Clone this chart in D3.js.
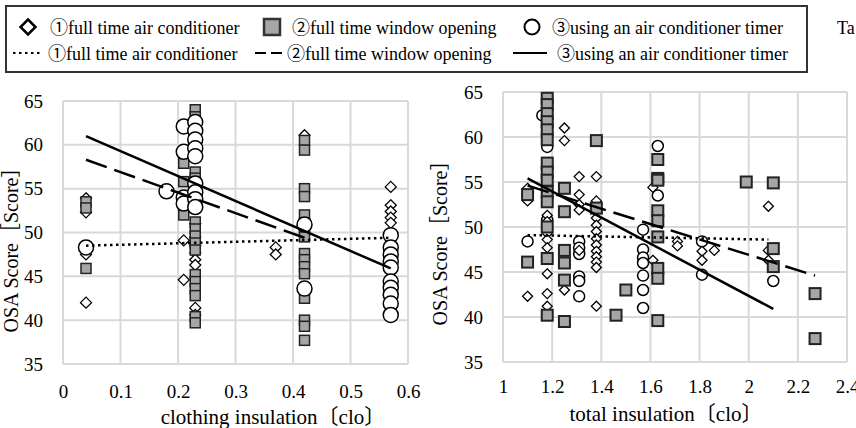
<!DOCTYPE html>
<html><head><meta charset="utf-8">
<script src="https://cdn.jsdelivr.net/npm/d3@7"></script>
<style>
body{margin:0;background:#fff}
svg{display:block}
text{font-family:"Liberation Serif","Times New Roman","Noto Sans CJK JP",serif;fill:#000}
</style>
</head><body>
<svg id="c" width="856" height="428"></svg>
<script>
// ---------- data ----------
const leftXTicks = [0, 0.1, 0.2, 0.3, 0.4, 0.5, 0.6];
const rightXTicks = [1, 1.2, 1.4, 1.6, 1.8, 2, 2.2, 2.4];
const yTicks = [35, 40, 45, 50, 55, 60, 65];
const seriesNames = ["①full time air conditioner", "②full time window opening", "③using an air conditioner timer"];
const leftXLabel = "clothing insulation〔clo〕";
const rightXLabel = "total insulation〔clo〕";
const yLabel = "OSA Score［Score］";
const sideText = "Ta";

// [x, [y values...]]
const leftAC = [
  [0.04, [53.9, 52.3, 47.5, 42.0]],
  [0.21, [49.1, 44.6]],
  [0.23, [51.0, 49.5, 48.5, 47.7, 46.9, 46.3, 41.4, 40.6]],
  [0.37, [48.3, 47.5]],
  [0.42, [61.1]],
  [0.57, [55.2, 53.1, 52.4, 51.7, 51.1]]
];
const leftWindow = [
  [0.04, [53.5, 52.8, 45.9]],
  [0.21, [57.9, 55.8, 52.0]],
  [0.23, [64.0, 63.2, 62.3, 61.4, 60.5, 59.6, 56.9, 56.2, 55.4, 54.6, 53.7, 51.2, 50.4, 49.6, 48.8, 48.0, 45.2, 44.4, 43.6, 42.8, 40.4, 39.7]],
  [0.42, [60.5, 59.4, 55.0, 54.1, 52.0, 51.1, 50.3, 49.5, 47.6, 46.9, 46.1, 45.3, 42.5, 40.0, 39.3, 37.7]]
];
const leftTimer = [
  [0.04, [48.3]],
  [0.18, [54.7]],
  [0.21, [62.1, 59.2, 54.0, 53.3]],
  [0.23, [62.6, 61.6, 60.6, 59.6, 58.7, 55.6, 54.6, 53.8, 52.9]],
  [0.42, [50.9, 43.6]],
  [0.57, [49.7, 48.3, 47.5, 46.7, 46.0, 44.4, 43.7, 42.9, 41.9, 40.6]]
];
const rightAC = [
  [1.10, [54.3, 52.9, 42.3]],
  [1.18, [51.3, 50.6, 49.3, 48.6, 47.7, 44.8, 42.6, 41.2]],
  [1.25, [61.0, 59.6, 43.0]],
  [1.31, [55.6, 53.6, 52.5, 51.9, 47.4]],
  [1.38, [55.6, 52.9, 51.0, 50.2, 49.5, 48.7, 48.0, 47.3, 46.7, 46.1, 45.5, 41.2]],
  [1.61, [54.4, 46.3]],
  [1.71, [48.4, 47.9]],
  [1.81, [47.3, 46.3]],
  [1.86, [47.4]],
  [2.08, [52.3, 47.4, 46.3]]
];
const rightWindow = [
  [1.10, [53.6, 46.1]],
  [1.18, [64.3, 63.6, 62.6, 61.7, 60.8, 59.7, 57.1, 56.1, 55.2, 53.9, 52.8, 50.0, 46.5, 40.2]],
  [1.25, [54.3, 51.7, 47.4, 46.0, 44.1, 39.5]],
  [1.38, [59.6, 52.1]],
  [1.46, [40.2]],
  [1.50, [43.0]],
  [1.63, [57.5, 55.4, 55.2, 51.8, 50.7, 48.9, 45.4, 44.3, 39.6]],
  [1.99, [55.0]],
  [2.10, [54.9, 47.6, 45.6]],
  [2.27, [42.6, 37.6]]
];
const rightTimer = [
  [1.10, [48.4]],
  [1.16, [62.4]],
  [1.18, [58.9, 54.5, 50.8]],
  [1.31, [48.4, 47.7, 47.0, 44.5, 44.0, 42.3]],
  [1.57, [49.7, 47.5, 46.6, 46.0, 44.6, 43.0, 41.0]],
  [1.63, [59.0, 53.5]],
  [1.81, [48.4, 44.7]],
  [2.10, [44.0]]
];
// trend lines: [[x1,y1],[x2,y2]]
const leftTrendAC = [[0.04, 48.5], [0.57, 49.4]];
const leftTrendWindow = [[0.04, 58.3], [0.42, 49.4]];
const leftTrendTimer = [[0.04, 61.0], [0.57, 45.9]];
const rightTrendAC = [[1.10, 49.1], [2.08, 48.6]];
const rightTrendWindow = [[1.10, 54.6], [2.27, 44.6]];
const rightTrendTimer = [[1.10, 55.4], [2.10, 40.9]];

// ---------- drawing ----------
const svg = d3.select("#c");
const flat = s => s.flatMap(([x, ys]) => ys.map(y => [x, y]));
const GRID = "#d9d9d9";
const SQFILL = "#a6a6a6";
const dotted = "2.5,3.5", dashed = "22,8";

function marker(g, type, pts, sx, sy, sz) {
  const sel = g.selectAll(null).data(pts);
  if (type === "circle") {
    sel.enter().append("circle")
      .attr("cx", d => sx(d[0])).attr("cy", d => sy(d[1])).attr("r", sz.c)
      .attr("fill", "#fff").attr("stroke", "#000").attr("stroke-width", 1.5);
  } else if (type === "square") {
    sel.enter().append("rect")
      .attr("x", d => sx(d[0]) - sz.s / 2).attr("y", d => sy(d[1]) - sz.s / 2)
      .attr("width", sz.s).attr("height", sz.s)
      .attr("fill", SQFILL).attr("stroke", "#222").attr("stroke-width", sz.sw);
  } else {
    const r = sz.d;
    sel.enter().append("path")
      .attr("d", d => { const x = sx(d[0]), y = sy(d[1]); return `M${x},${y - r}L${x + r},${y}L${x},${y + r}L${x - r},${y}Z`; })
      .attr("fill", "#fff").attr("stroke", "#000").attr("stroke-width", 1.3);
  }
}

function chart(o) {
  const sx = d3.scaleLinear().domain(o.xd).range([o.l, o.r]);
  const sy = d3.scaleLinear().domain([35, 65]).range([o.b, o.t]);
  const g = svg.append("g");
  // grid
  g.selectAll(null).data(o.xt).enter().append("line")
    .attr("x1", d => sx(d)).attr("x2", d => sx(d)).attr("y1", o.t).attr("y2", o.b)
    .attr("stroke", GRID).attr("stroke-width", 2);
  g.selectAll(null).data(yTicks).enter().append("line")
    .attr("x1", o.l).attr("x2", o.r).attr("y1", d => sy(d)).attr("y2", d => sy(d))
    .attr("stroke", GRID).attr("stroke-width", 2);
  // axes labels
  const ax = d3.axisBottom(sx).tickValues(o.xt).tickSize(0).tickPadding(o.xpad)
    .tickFormat(d => String(+d.toFixed(1)));
  const ga = g.append("g").attr("transform", `translate(0,${o.b})`).call(ax);
  ga.select(".domain").remove();
  ga.selectAll("text").attr("font-size", 19).attr("font-family", "Liberation Serif");
  const ay = d3.axisLeft(sy).tickValues(yTicks).tickSize(0).tickPadding(20);
  const gy = g.append("g").attr("transform", `translate(${o.l},0)`).call(ay);
  gy.select(".domain").remove();
  gy.selectAll("text").attr("font-size", 19).attr("font-family", "Liberation Serif");
  // titles
  g.append("text").attr("x", o.xlx).attr("y", o.xly).attr("text-anchor", "middle")
    .attr("font-size", 21).text(o.xlabel);
  g.append("text").attr("transform", `translate(${o.ylx},${o.yly}) rotate(-90)`)
    .attr("text-anchor", "middle").attr("font-size", 20).text(yLabel);
  // markers
  const sz = o.sz;
  o.order.forEach(([type, data]) => marker(g, type, flat(data), sx, sy, sz));
  // trendlines
  const line = d3.line().x(d => sx(d[0])).y(d => sy(d[1]));
  o.trends.forEach(([pts, dash]) => {
    g.append("path").attr("d", line(pts)).attr("fill", "none").attr("stroke", "#000")
      .attr("stroke-width", 2.5).attr("stroke-dasharray", dash);
  });
}

chart({
  xd: [0, 0.6], xt: leftXTicks, l: 63, r: 408, t: 101, b: 364, xpad: 20.5,
  xlabel: leftXLabel, xlx: 273, xly: 424, ylx: 18, yly: 245,
  sz: { c: 7.5, s: 10, d: 5.5, sw: 1.5 },
  order: [["diamond", leftAC], ["square", leftWindow], ["circle", leftTimer]],
  trends: [[leftTrendAC, dotted], [leftTrendWindow, dashed], [leftTrendTimer, null]]
});
chart({
  xd: [1, 2.4], xt: rightXTicks, l: 503, r: 847, t: 92, b: 362, xpad: 17.5,
  xlabel: rightXLabel, xlx: 666, xly: 421, ylx: 447, yly: 238,
  sz: { c: 5.5, s: 11, d: 5, sw: 2 },
  order: [["circle", rightTimer], ["diamond", rightAC], ["square", rightWindow]],
  trends: [[rightTrendAC, dotted], [rightTrendWindow, dashed], [rightTrendTimer, null]]
});

// ---------- legend ----------
const lg = svg.append("g");
lg.append("rect").attr("x", 6).attr("y", 6).attr("width", 801).attr("height", 66)
  .attr("fill", "#fff").attr("stroke", "#3a3030").attr("stroke-width", 2);
const row1 = 27, row2 = 53;
lg.append("path").attr("d", `M28,${row1 - 7.5}L35.5,${row1}L28,${row1 + 7.5}L20.5,${row1}Z`)
  .attr("fill", "#fff").attr("stroke", "#000").attr("stroke-width", 2.5);
lg.append("rect").attr("x", 264).attr("y", row1 - 8).attr("width", 16).attr("height", 16)
  .attr("fill", SQFILL).attr("stroke", "#333").attr("stroke-width", 2.5);
lg.append("circle").attr("cx", 532).attr("cy", row1).attr("r", 7.5)
  .attr("fill", "#fff").attr("stroke", "#000").attr("stroke-width", 2);
const r1x = [50, 292, 552];
seriesNames.forEach((n, i) => lg.append("text").attr("x", r1x[i]).attr("y", row1 + 6.5)
  .attr("font-size", 18).text(n));
const r2 = [[13, 40, dotted, 48], [255, 282, "11,5", 287], [513, 547, null, 557]];
seriesNames.forEach((n, i) => {
  const [a, b, dash, tx] = r2[i];
  lg.append("line").attr("x1", a).attr("x2", b).attr("y1", row2).attr("y2", row2)
    .attr("stroke", "#000").attr("stroke-width", 2).attr("stroke-dasharray", dash);
  lg.append("text").attr("x", tx).attr("y", row2 + 6.5).attr("font-size", 18).text(n);
});
svg.append("text").attr("x", 837).attr("y", row1 + 6.5).attr("font-size", 18).text(sideText);
</script>
</body></html>
